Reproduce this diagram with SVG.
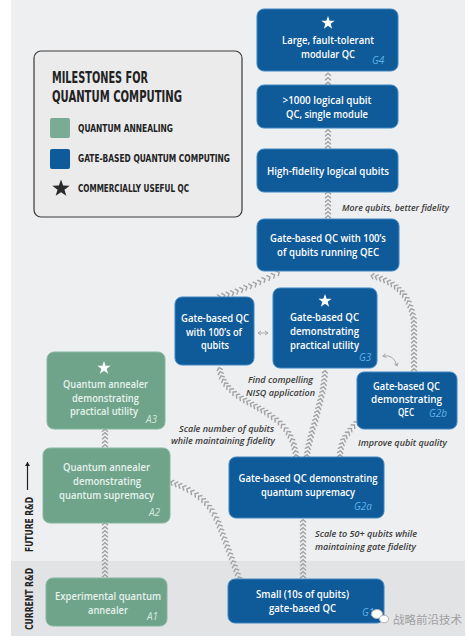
<svg xmlns="http://www.w3.org/2000/svg" width="469" height="641" viewBox="0 0 469 641">
<defs>
<style>
.bx{fill:#0f5a98;stroke:#3f86c4;stroke-width:1}
.gx{fill:#6fa48b;stroke:#86b7a0;stroke-width:1}
.bt{font-family:"Open Sans","Liberation Sans",sans-serif;font-weight:600;font-size:10.5px;fill:#ffffff;text-anchor:middle}
.gt{font-family:"Open Sans","Liberation Sans",sans-serif;font-weight:600;font-size:10.5px;fill:#e6f2ec;text-anchor:middle}
.gl{font-family:"Open Sans","Liberation Sans",sans-serif;font-style:italic;font-size:10px;fill:#5db3e8}
.al{font-family:"Open Sans","Liberation Sans",sans-serif;font-style:italic;font-size:10px;fill:#d3e8dc}
.lab{font-family:"Open Sans","Liberation Sans",sans-serif;font-style:italic;font-weight:600;font-size:9.4px;fill:#3a3a3a}
.leg{font-family:"DejaVu Sans Condensed","DejaVu Sans","Liberation Sans",sans-serif;font-weight:bold;fill:#222222}
.ch{fill:none;stroke:none;marker-start:url(#chev);marker-mid:url(#chev);marker-end:url(#chev)}
</style>
<marker id="chev" markerUnits="userSpaceOnUse" markerWidth="10" markerHeight="10" refX="0" refY="0" orient="auto" overflow="visible">
<path d="M-1.3,-3 L1.3,0 L-1.3,3" fill="none" stroke="#a3a3a3" stroke-width="1.4"/>
</marker>
<marker id="ah" markerUnits="userSpaceOnUse" markerWidth="8" markerHeight="8" refX="0" refY="0" orient="auto-start-reverse" overflow="visible">
<path d="M-3,-2 L0,0 L-3,2" fill="none" stroke="#a8a8a8" stroke-width="1"/>
</marker>
<marker id="ahk" markerUnits="userSpaceOnUse" markerWidth="8" markerHeight="8" refX="0" refY="0" orient="auto" overflow="visible">
<path d="M-4,-2.5 L0,0 L-4,2.5 Z" fill="#222222"/>
</marker>
<polygon id="star" points="0,-7 1.65,-2.27 6.66,-2.16 2.66,0.87 4.12,5.66 0,2.8 -4.12,5.66 -2.66,0.87 -6.66,-2.16 -1.65,-2.27"/>
</defs>

<!-- background -->
<rect x="0" y="0" width="469" height="641" fill="#ffffff"/>
<rect x="11" y="0" width="454" height="561" fill="#eeeff0"/>
<rect x="11" y="561" width="454" height="75" fill="#e2e3e5"/>

<!-- legend -->
<g id="legend">
<rect x="34" y="51" width="208" height="166" rx="7" fill="#ebebec" stroke="#3a3a3a" stroke-width="1.2"/>
<text class="leg" x="52" y="83" font-size="15.5" textLength="96" lengthAdjust="spacingAndGlyphs">MILESTONES FOR</text>
<text class="leg" x="52" y="102" font-size="15.5" textLength="130" lengthAdjust="spacingAndGlyphs">QUANTUM COMPUTING</text>
<rect x="50" y="118" width="20" height="20" rx="2" fill="#7aab94"/>
<text class="leg" x="78" y="131.5" font-size="10.5" textLength="95" lengthAdjust="spacingAndGlyphs">QUANTUM ANNEALING</text>
<rect x="50" y="149" width="20" height="20" rx="2" fill="#0f5a98"/>
<text class="leg" x="78" y="162" font-size="10.5" textLength="152" lengthAdjust="spacingAndGlyphs">GATE-BASED QUANTUM COMPUTING</text>
<use href="#star" transform="translate(61,188.5) scale(1.3)" fill="#2b2b2b"/>
<text class="leg" x="78" y="192" font-size="10.5" textLength="111" lengthAdjust="spacingAndGlyphs">COMMERCIALLY USEFUL QC</text>
</g>

<!-- side labels -->
<g id="side-labels">
<text class="leg" font-size="11" text-anchor="middle" transform="translate(32.5,524.5) rotate(-90)" textLength="55" lengthAdjust="spacingAndGlyphs">FUTURE R&amp;D</text>
<text class="leg" font-size="11" text-anchor="middle" transform="translate(32.5,599) rotate(-90)" textLength="62" lengthAdjust="spacingAndGlyphs">CURRENT R&amp;D</text>
<line x1="27.5" y1="490" x2="27.5" y2="462" stroke="#222222" stroke-width="1.2" marker-end="url(#ahk)"/>
</g>

<!-- connectors -->
<g id="connectors">
<polyline class="ch" points="328,83.5 328,79 328,74.5"/>
<polyline class="ch" points="328,147 328,143 328,139 328,135 328,131"/>
<polyline class="ch" points="328,217 328,213 328,209 328,205 328,201 328,197 328,193"/>
<polyline class="ch" points="219,297 223.5,295.6 227.9,294.3 232.4,292.9 236.9,291.3 241.6,289.7 245.8,287.5 250.5,286.1 255.1,284.2 259.6,282.1 263.9,279.6 268.8,277.7 273.4,275.4 278,273"/>
<polyline class="ch" points="414,370 414,366 414,362 414,358 414,354 414,350 414,346 414,342 414,338 414,334 414,330 414,326 413.8,322 413.5,318 412.5,314 411.5,310 410,306 408.5,302 406.5,298.5 404,295 401.5,292 398.5,289 395.5,286.5 392,284 388.5,282 384.5,280 380.5,278.5 376.5,277 372.5,276"/>
<polyline class="ch" points="307,456 307.5,452 308,448 309,444 310,440 311,436 312,432 313,428 314.5,424 315.5,420 316.5,416 317.5,412 318.5,408 319.5,404 320.5,400 321.5,396 322.5,392 323.2,388 323.8,384 324.3,380 324.7,376 325,372"/>
<polyline class="ch" points="340,456 340.3,452 341,448 342,444 343.5,440 345.5,436.5 348,433 350.5,429.5 353.5,426 356.5,423"/>
<polyline class="ch" points="296,456 295.5,452 294.5,448 293.5,444 292,440 290,436 288,432.5 285.5,429 282.5,425.5 279.5,422.5 276,419.5 272.5,417 269,414.5 265.5,412 262,410 258.5,408 255,406 251.5,404 248,402 244.5,400 241,398 237.5,395.5 234,393 231,390 228,387 225.5,384 223.5,380.5 221.5,377 220.5,373 219.5,369"/>
<polyline class="ch" points="303,577 303,573 303,569 303,565 303,561 303,557 303,553 303,549 303,545 303,541 303,537 303,533 303,529 303,525 303,521"/>
<polyline class="ch" points="239,578 237.5,574 236,570 234.5,566 233,562 231.5,558 230,554 228.5,550 227,546 225.5,542 224,538 222.5,534 221,530 219.5,526 218,522 216,518 214,514 211.5,510 209,506.5 206,503 203,500 199.5,497 196,494.5 192,492 188,489.5 184,487.5 180,485.5 176,484 172,482.5"/>
<polyline class="ch" points="105,446 105,442 105,438 105,434 105,430.5"/>
<polyline class="ch" points="105,576 105,572 105,568 105,564 105,560 105,556 105,552 105,548 105,544 105,540 105,536 105,532 105,528 105,524"/>
<line x1="258" y1="333" x2="268" y2="333" stroke="#a8a8a8" stroke-width="1" marker-start="url(#ah)" marker-end="url(#ah)"/>
<path d="M383,356 Q394,354 397,366" fill="none" stroke="#a8a8a8" stroke-width="1" marker-start="url(#ah)" marker-end="url(#ah)"/>
</g>

<!-- connector labels -->
<g id="labels">
<text class="lab" x="342" y="211" textLength="107" lengthAdjust="spacingAndGlyphs">More qubits, better fidelity</text>
<text class="lab" x="280.5" y="383" text-anchor="middle" textLength="65" lengthAdjust="spacingAndGlyphs">Find compelling</text>
<text class="lab" x="280.5" y="396" text-anchor="middle" textLength="69" lengthAdjust="spacingAndGlyphs">NISQ application</text>
<text class="lab" x="226.5" y="432" text-anchor="middle" textLength="95" lengthAdjust="spacingAndGlyphs">Scale number  of qubits</text>
<text class="lab" x="223" y="444" text-anchor="middle" textLength="104" lengthAdjust="spacingAndGlyphs">while maintaining fidelity</text>
<text class="lab" x="358" y="446" textLength="89" lengthAdjust="spacingAndGlyphs">Improve qubit quality</text>
<text class="lab" x="315" y="537" textLength="102" lengthAdjust="spacingAndGlyphs">Scale to 50+ qubits while</text>
<text class="lab" x="315" y="549.5" textLength="101" lengthAdjust="spacingAndGlyphs">maintaining gate fidelity</text>
</g>

<!-- gate-based nodes -->
<g id="G4">
<rect class="bx" x="257" y="9" width="141" height="62" rx="7"/>
<use href="#star" transform="translate(328,23)" fill="#ffffff"/>
<text class="bt" x="328" y="44" textLength="92" lengthAdjust="spacingAndGlyphs">Large, fault-tolerant</text>
<text class="bt" x="328" y="58" textLength="54" lengthAdjust="spacingAndGlyphs">modular QC</text>
<text class="gl" x="372" y="63.5">G4</text>
</g>
<g id="logical1000">
<rect class="bx" x="257" y="85" width="141" height="43" rx="7"/>
<text class="bt" x="327" y="104" textLength="89" lengthAdjust="spacingAndGlyphs">&gt;1000 logical qubit</text>
<text class="bt" x="327" y="117.5" textLength="82" lengthAdjust="spacingAndGlyphs">QC, single module</text>
</g>
<g id="logical-hf">
<rect class="bx" x="257" y="149" width="141" height="43" rx="7"/>
<text class="bt" x="328" y="174.5" textLength="122" lengthAdjust="spacingAndGlyphs">High-fidelity logical qubits</text>
</g>
<g id="qec100">
<rect class="bx" x="257" y="219" width="142" height="52" rx="7"/>
<text class="bt" x="328" y="242" textLength="116" lengthAdjust="spacingAndGlyphs">Gate-based QC with 100’s</text>
<text class="bt" x="328" y="256" textLength="102" lengthAdjust="spacingAndGlyphs">of qubits running QEC</text>
</g>
<g id="qc100">
<rect class="bx" x="175" y="297" width="79" height="68" rx="7"/>
<text class="bt" x="215" y="322" textLength="68" lengthAdjust="spacingAndGlyphs">Gate-based QC</text>
<text class="bt" x="214" y="335.5" textLength="56" lengthAdjust="spacingAndGlyphs">with 100’s of</text>
<text class="bt" x="215" y="349" textLength="28" lengthAdjust="spacingAndGlyphs">qubits</text>
</g>
<g id="G3">
<rect class="bx" x="273" y="288" width="104" height="80" rx="7"/>
<use href="#star" transform="translate(325,301)" fill="#ffffff"/>
<text class="bt" x="324.5" y="321" textLength="69" lengthAdjust="spacingAndGlyphs">Gate-based QC</text>
<text class="bt" x="324.5" y="335" textLength="69" lengthAdjust="spacingAndGlyphs">demonstrating</text>
<text class="bt" x="324.5" y="348.5" textLength="69" lengthAdjust="spacingAndGlyphs">practical utility</text>
<text class="gl" x="359" y="360.5">G3</text>
</g>
<g id="G2b">
<rect class="bx" x="357" y="372" width="100" height="57" rx="7"/>
<text class="bt" x="406.5" y="390" textLength="67" lengthAdjust="spacingAndGlyphs">Gate-based QC</text>
<text class="bt" x="406.5" y="403" textLength="71" lengthAdjust="spacingAndGlyphs">demonstrating</text>
<text class="bt" x="406" y="416" textLength="16" lengthAdjust="spacingAndGlyphs">QEC</text>
<text class="gl" x="429" y="416.5">G2b</text>
</g>
<g id="G2a">
<rect class="bx" x="229" y="457" width="155" height="61" rx="7"/>
<text class="bt" x="308" y="482" textLength="139" lengthAdjust="spacingAndGlyphs">Gate-based QC demonstrating</text>
<text class="bt" x="308" y="496" textLength="94" lengthAdjust="spacingAndGlyphs">quantum supremacy</text>
<text class="gl" x="354" y="510">G2a</text>
</g>
<g id="G1">
<rect class="bx" x="228" y="579" width="156" height="44" rx="7"/>
<text class="bt" x="302.5" y="598" textLength="93" lengthAdjust="spacingAndGlyphs">Small (10s of qubits)</text>
<text class="bt" x="302.5" y="612" textLength="67" lengthAdjust="spacingAndGlyphs">gate-based QC</text>
<text class="gl" x="362" y="615.5">G1</text>
</g>

<!-- annealing nodes -->
<g id="A3">
<rect class="gx" x="47" y="352" width="118" height="77" rx="7"/>
<use href="#star" transform="translate(104,368)" fill="#ffffff"/>
<text class="gt" x="105.5" y="388" textLength="85" lengthAdjust="spacingAndGlyphs">Quantum annealer</text>
<text class="gt" x="105.5" y="401.5" textLength="67" lengthAdjust="spacingAndGlyphs">demonstrating</text>
<text class="gt" x="104" y="415" textLength="68" lengthAdjust="spacingAndGlyphs">practical utility</text>
<text class="al" x="146" y="423">A3</text>
</g>
<g id="A2">
<rect class="gx" x="43" y="448" width="127" height="75" rx="7"/>
<text class="gt" x="106.5" y="471" textLength="87" lengthAdjust="spacingAndGlyphs">Quantum annealer</text>
<text class="gt" x="107" y="485" textLength="68" lengthAdjust="spacingAndGlyphs">demonstrating</text>
<text class="gt" x="106.5" y="499" textLength="95" lengthAdjust="spacingAndGlyphs">quantum supremacy</text>
<text class="al" x="149" y="516">A2</text>
</g>
<g id="A1">
<rect class="gx" x="46" y="578" width="121" height="48" rx="7"/>
<text class="gt" x="108" y="600" textLength="106" lengthAdjust="spacingAndGlyphs">Experimental quantum</text>
<text class="gt" x="108" y="613.5" textLength="40" lengthAdjust="spacingAndGlyphs">annealer</text>
<text class="al" x="147" y="620">A1</text>
</g>

<!-- watermark -->
<g id="watermark">
<ellipse cx="377" cy="614" rx="5.5" ry="4.5" fill="#ffffff" stroke="#b0b0b0" stroke-width="1"/>
<ellipse cx="384" cy="619" rx="4.5" ry="3.8" fill="#ffffff" stroke="#b0b0b0" stroke-width="1"/>
<text x="393" y="623.5" font-family="'Noto Sans CJK SC',sans-serif" font-size="11.5" fill="#a0a0a0" textLength="69" lengthAdjust="spacingAndGlyphs">战略前沿技术</text>
</g>
</svg>
